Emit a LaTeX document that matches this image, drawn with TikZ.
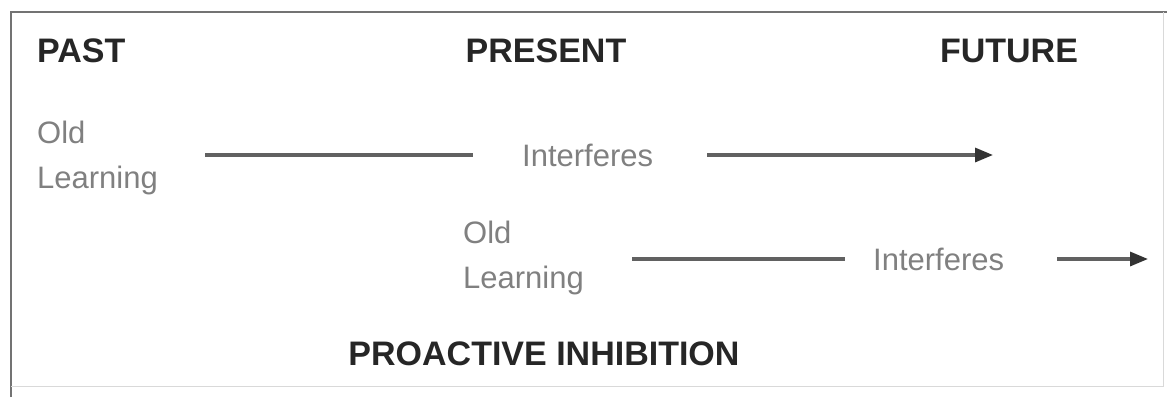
\documentclass[tikz,border=0pt]{standalone}
\usepackage{fontspec}
\setmainfont{Liberation Sans}
\usetikzlibrary{arrows.meta,positioning,calc}

\begin{document}
\begin{tikzpicture}[
            x=1pt, y=-1pt,
            head/.style={inner sep=0pt, font=\fontsize{34}{40}\selectfont\bfseries, text=black!85},
            word/.style={inner sep=0pt, align=left, text=black!50, font=\fontsize{31}{45}\selectfont},
            link/.style={line width=3.2pt, draw=black!62},
            arrow/.style={link, -{Triangle[length=18pt, width=14pt, color=black!80]}}
        ]
            \useasboundingbox (0,0) rectangle (1167,397);
            % frame
            \draw[line width=2.5pt, black!55] (11,397) -- (11,12) -- (1167,12);
            \draw[line width=1pt, black!15] (1163,12) -- (1163,386) -- (11,386);

            \node[head, anchor=base west] (past) at (37,62) {PAST};
            \node[head, anchor=base] (present) at (546,62) {PRESENT};
            \node[head, anchor=base] (future) at (1009,62) {FUTURE};

            \node[word, anchor=base west] (old1) at (37,188) {Old\\Learning};
            \node[word, anchor=base west] (int1) at (522,166) {Interferes};
            \coordinate (end1) at (993,155);

            \node[word, anchor=base west] (old2) at (463,288) {Old\\Learning};
            \node[word, anchor=base west] (int2) at (873,270) {Interferes};
            \coordinate (end2) at (1148,259);

            \node[head, anchor=base] (title) at (544,365) {PROACTIVE INHIBITION};

            \draw[link, shorten <=47pt, shorten >=49pt] (old1.east |- end1) -- (int1.west |- end1);
            \draw[arrow, shorten <=54pt] (int1.east |- end1) -- (end1);
            \draw[link, shorten <=48pt, shorten >=28pt] (old2.east |- end2) -- (int2.west |- end2);
            \draw[arrow, shorten <=53pt] (int2.east |- end2) -- (end2);
        \end{tikzpicture}
\end{document}
